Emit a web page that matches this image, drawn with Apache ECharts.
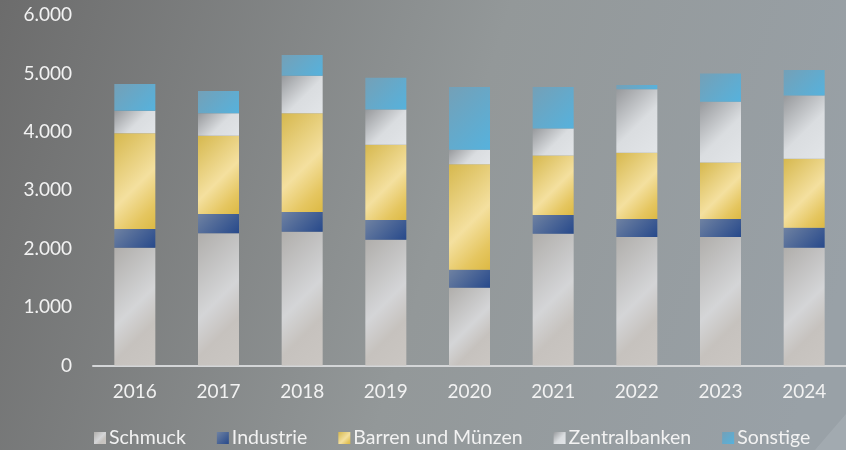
<!DOCTYPE html>
<html>
<head>
<meta charset="utf-8">
<script src="https://cdn.jsdelivr.net/npm/echarts@6/dist/echarts.min.js"></script>
<style>
html,body{margin:0;padding:0;background:#7a7b7c;}
#chart{width:846px;height:450px;}
</style>
</head>
<body>
<div id="chart"></div>
<script>
const years = ['2016','2017','2018','2019','2020','2021','2022','2023','2024'];
const schmuck       = [2017, 2264, 2291, 2154, 1332, 2257, 2200, 2200, 2017];
const industrie     = [320, 330, 337, 337, 308, 320, 309, 309, 343];
const barren        = [1639, 1341, 1690, 1290, 1805, 1016, 1135, 964, 1181];
const zentralbanken = [387, 383, 644, 601, 250, 462, 1085, 1044, 1079];
const sonstige      = [457, 382, 355, 543, 1074, 714, 74, 480, 440];
const seriesNames = ['Schmuck', 'Industrie', 'Barren und Münzen', 'Zentralbanken', 'Sonstige'];
const yTicks = [0, 1000, 2000, 3000, 4000, 5000, 6000];

const palettes = [
  [[0,'#b0aeab'],[0.5,'#d4d5d7'],[0.72,'#c6c2be'],[1,'#cac6c2']],
  [[0,'#6f82a2'],[1,'#27498b']],
  [[0,'#d6b84e'],[0.55,'#f4e09f'],[0.82,'#e5c660'],[1,'#dcb944']],
  [[0,'#97999c'],[0.55,'#dadde0'],[1,'#e2e5e8']],
  [[0,'#74a0b7'],[1,'#56b2dd']]
];
function grad(stops, x2, y2){
  return new echarts.graphic.LinearGradient(0,0,x2,y2, stops.map(s=>({offset:s[0], color:s[1]})));
}
const barW = 41, pxPerUnit = 350/6000;
function itemsFor(values, pal){
  return values.map(v=>{
    const h = Math.max(v*pxPerUnit, 1);
    const x2 = (barW+h)/(2*barW), y2 = (barW+h)/(2*h);
    return {value:v, itemStyle:{color:grad(pal, x2, y2)}};
  });
}
const allData = [schmuck, industrie, barren, zentralbanken, sonstige];

const chart = echarts.init(document.getElementById('chart'), null, {renderer:'canvas'});
const font = 'Lato';
chart.setOption({
  animation:false,
  backgroundColor: new echarts.graphic.LinearGradient(0,0,1,0.6,[
    {offset:0,color:'#6c6c6c'},{offset:0.55,color:'#939899'},{offset:1,color:'#99a1a7'}
  ]),
  graphic:[{
    type:'polygon', silent:true,
    shape:{points:[[815,450],[846,414],[846,450]]},
    style:{fill:'rgba(185,192,198,0.3)'}
  }],
  grid:{left:93, right:0, top:15, bottom:84.5},
  legend:{
    left:89, top:423, itemWidth:12, itemHeight:12, itemGap:31,
    icon:'rect',
    textStyle:{color:'#f2f2f2', fontFamily:font, fontSize:19.5, padding:[0,0,0,-2]},
    data: seriesNames.map((n,i)=>({name:n, itemStyle:{color:grad(palettes[i],1,1)}}))
  },
  xAxis:{
    type:'category', data:years,
    axisLine:{show:true, lineStyle:{color:'#d4d6d8', width:2}},
    axisTick:{show:false},
    axisLabel:{color:'#f2f2f2', fontFamily:font, fontSize:19, margin:17}
  },
  yAxis:{
    type:'value', min:0, max:6000, interval:1000,
    splitLine:{show:false}, axisLine:{show:false}, axisTick:{show:false},
    axisLabel:{color:'#f2f2f2', fontFamily:font, fontSize:19, margin:21,
      formatter:v=> yTicks.includes(v) ? (v===0?'0':(v/1000)+'.000') : ''}
  },
  series: seriesNames.map((n,i)=>({
    name:n, type:'bar', stack:'total', barWidth:barW,
    itemStyle:{color:grad(palettes[i],1,1)},
    data: itemsFor(allData[i], palettes[i])
  }))
});
</script>
</body>
</html>
